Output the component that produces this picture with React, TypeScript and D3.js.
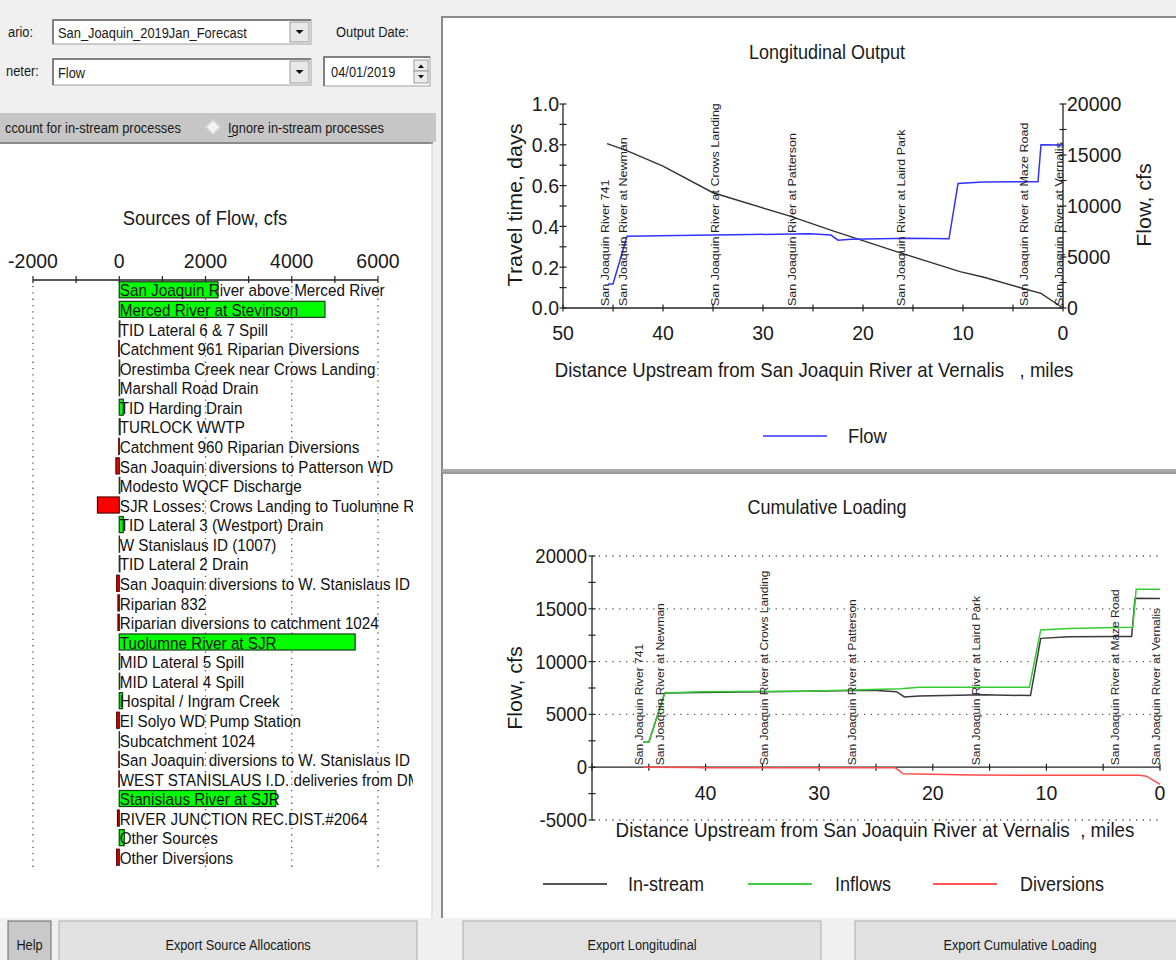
import * as d3 from 'd3'

const FONT = '"Liberation Sans", Arial, sans-serif'

// ---- Sources of Flow (cfs) ----
const sourceNames = [
  'San Joaquin River above Merced River',
  'Merced River at Stevinson',
  'TID Lateral 6 & 7 Spill',
  'Catchment 961 Riparian Diversions',
  'Orestimba Creek near Crows Landing',
  'Marshall Road Drain',
  'TID Harding Drain',
  'TURLOCK WWTP',
  'Catchment 960 Riparian Diversions',
  'San Joaquin diversions to Patterson WD',
  'Modesto WQCF Discharge',
  'SJR Losses: Crows Landing to Tuolumne River',
  'TID Lateral 3 (Westport) Drain',
  'W Stanislaus ID (1007)',
  'TID Lateral 2 Drain',
  'San Joaquin diversions to W. Stanislaus ID',
  'Riparian 832',
  'Riparian diversions to catchment 1024',
  'Tuolumne River at SJR',
  'MID Lateral 5 Spill',
  'MID Lateral 4 Spill',
  'Hospital / Ingram Creek',
  'El Solyo WD Pump Station',
  'Subcatchment 1024',
  'San Joaquin diversions to W. Stanislaus ID',
  'WEST STANISLAUS I.D. deliveries from DMC',
  'Stanislaus River at SJR',
  'RIVER JUNCTION REC.DIST.#2064',
  'Other Sources',
  'Other Diversions',
]
const sourceFlows = [
  2290, 4770, 15, -10, 10, 8, 93, 20, -12, -77, 12, -505, 93, 6, 15, -60, -30, -30, 5470, 10, 10, 77, -60, 5,
  -8, -8, 3630, -40, 116, -60,
]
const sourceTicks = [-2000, 0, 2000, 4000, 6000]

// ---- stations along the river (miles upstream of Vernalis) ----
const stationNames = [
  'San Joaquin River 741',
  'San Joaquin River at Newman',
  'San Joaquin River at Crows Landing',
  'San Joaquin River at Patterson',
  'San Joaquin River at Laird Park',
  'San Joaquin River at Maze Road',
  'San Joaquin River at Vernalis',
]
const stationMiles = [45.8, 44.0, 34.8, 27.1, 16.2, 3.9, 0.35]

// ---- travel time (days) ----
const travelMiles = [45.6, 43.8, 40, 35, 27.3, 23, 16.5, 10.3, 8, 3.8, 2.2, 0]
const travelDays = [0.806, 0.775, 0.695, 0.565, 0.45, 0.378, 0.274, 0.178, 0.152, 0.093, 0.072, 0]

// ---- in-stream flow (cfs) ----
const instreamMiles = [45.5, 45.0, 43.6, 40.4, 31.3, 25.3, 23.2, 22.5, 21.2, 15.5, 11.4, 10.5, 8.0, 4.0, 2.5, 2.2, 0]
const instreamFlow = [2360, 2360, 7030, 7080, 7200, 7280, 7150, 6650, 6750, 6850, 6780, 12200, 12350, 12380, 12380, 16000, 15980]

// ---- cumulative inflows (cfs) ----
const inflowMiles = [45.5, 45.0, 43.6, 40.4, 31.3, 22.8, 21.2, 11.5, 10.5, 8.0, 4.0, 2.4, 2.1, 0]
const inflowFlow = [2360, 2360, 7030, 7150, 7200, 7420, 7560, 7560, 13000, 13130, 13230, 13250, 16860, 16860]

// ---- cumulative diversions (cfs) ----
const diversionMiles = [45.5, 40.6, 40.4, 23.3, 22.6, 16.5, 1.8, 1.2, 0]
const diversionFlow = [0, -20, -60, -60, -620, -750, -760, -850, -1630]

const travelTicks = [0, 0.2, 0.4, 0.6, 0.8, 1.0]
const flowTicksRight = [0, 5000, 10000, 15000, 20000]
const mileTicks = [50, 40, 30, 20, 10, 0]
const cumFlowTicks = [-5000, 0, 5000, 10000, 15000, 20000]
const cumMileTicks = [40, 30, 20, 10, 0]

type TxtProps = {
  x: number
  y: number
  size: number
  sx?: number
  rot?: number
  anchor?: 'start' | 'middle' | 'end'
  fill?: string
  dy?: string
  children: any
}

function Txt({ x, y, size, sx = 1, rot = 0, anchor = 'start', fill = '#1a1a1a', dy = '0.35em', children }: TxtProps) {
  return (
    <text
      transform={`translate(${x},${y}) scale(${sx},1)${rot ? ` rotate(${rot})` : ''}`}
      fontSize={size}
      textAnchor={anchor}
      fill={fill}
      dy={dy}
      style={{ whiteSpace: 'pre' }}
    >
      {children}
    </text>
  )
}

function Combo({ x, y, w, h, text }: { x: number; y: number; w: number; h: number; text: string }) {
  return (
    <g>
      <rect x={x} y={y} width={w} height={h} fill="#fff" stroke="#a0a0a0" />
      <path d={`M${x},${y + h} V${y} H${x + w}`} fill="none" stroke="#696969" strokeWidth={1.5} />
      <rect x={x + w - 21} y={y + 2} width={19} height={h - 4} fill="#e8e8e8" stroke="#9a9a9a" />
      <path d={`M${x + w - 15.5},${y + h / 2 - 2} h8 l-4,4 z`} fill="#111" />
      <Txt x={x + 5} y={y + h / 2 + 1} size={14.3} sx={0.9}>
        {text}
      </Txt>
    </g>
  )
}

function Button({ x, w, label, pressed = false }: { x: number; w: number; label: string; pressed?: boolean }) {
  return (
    <g>
      <rect x={x} y={921} width={w} height={45} fill={pressed ? '#c9c9c9' : '#e1e1e1'} stroke={pressed ? '#6a6a6a' : '#adadad'} />
      <Txt x={x + w / 2} y={945} size={14.5} sx={0.88} anchor="middle">
        {label}
      </Txt>
    </g>
  )
}

function SourcesChart() {
  const x = d3.scaleLinear().domain([-2000, 6000]).range([33, 378])
  const y = d3
    .scaleBand<number>()
    .domain(d3.range(sourceNames.length))
    .range([280, 867])
    .paddingInner(0.18)
    .paddingOuter(0.09)
  const minor = d3.range(-2000, 6001, 1000)
  return (
    <g>
      <defs>
        <clipPath id="srcClip">
          <rect x={0} y={143} width={413} height={775} />
        </clipPath>
      </defs>
      <Txt x={205} y={218} size={20} sx={0.92} anchor="middle">
        Sources of Flow, cfs
      </Txt>
      {sourceTicks.map((t) => (
        <Txt key={t} x={x(t)} y={261} size={20.5} sx={0.95} anchor="middle">
          {t}
        </Txt>
      ))}
      <line x1={x(-2000)} x2={x(6000)} y1={280} y2={280} stroke="#222" strokeWidth={1.3} />
      {minor.map((t) => (
        <line key={t} x1={x(t)} x2={x(t)} y1={276} y2={283} stroke="#222" strokeWidth={1.2} />
      ))}
      {sourceTicks
        .filter((t) => t !== 0)
        .map((t) => (
          <line key={t} x1={x(t)} x2={x(t)} y1={286} y2={868} stroke="#555" strokeWidth={1.3} strokeDasharray="1.3 5" />
        ))}
      <g clipPath="url(#srcClip)">
        {sourceFlows.map((v, i) => {
          const x0 = x(Math.min(0, v))
          const w = Math.abs(x(v) - x(0))
          return (
            <rect
              key={i}
              x={x0}
              y={y(i)}
              width={w}
              height={y.bandwidth()}
              fill={v >= 0 ? '#00ff00' : '#ff0000'}
              stroke={v >= 0 ? '#1c3a1c' : '#5a0000'}
              strokeWidth={1.2}
            />
          )
        })}
        {sourceNames.map((n, i) => (
          <Txt key={i} x={x(0) + 0.5} y={(y(i) ?? 0) + y.bandwidth() / 2 + 1} size={16.3} sx={0.935} fill="#111">
            {n}
          </Txt>
        ))}
      </g>
    </g>
  )
}

function crossTicks(vals: number[], pos: (v: number) => number, fixed: number, vertical: boolean, keyp: string) {
  return vals.map((v) =>
    vertical ? (
      <line key={keyp + v} x1={fixed - 3.5} x2={fixed + 3.5} y1={pos(v)} y2={pos(v)} stroke="#222" strokeWidth={1.2} />
    ) : (
      <line key={keyp + v} x1={pos(v)} x2={pos(v)} y1={fixed - 3.5} y2={fixed + 3.5} stroke="#222" strokeWidth={1.2} />
    ),
  )
}

function StationLabels({ x, base, size }: { x: (m: number) => number; base: number; size: number }) {
  return (
    <g>
      {stationNames.map((n, i) => (
        <Txt key={n} x={x(stationMiles[i])} y={base} size={size} sx={0.85} rot={-90} fill="#222">
          {n}
        </Txt>
      ))}
    </g>
  )
}

function LongitudinalChart() {
  const x = d3.scaleLinear().domain([50, 0]).range([563, 1063])
  const yl = d3.scaleLinear().domain([0, 1]).range([308, 104])
  const yr = d3.scaleLinear().domain([0, 20000]).range([308, 104])
  const travel = d3
    .line<number>()
    .x((_, i) => x(travelMiles[i]))
    .y((d) => yl(d))
  const flow = d3
    .line<number>()
    .x((_, i) => x(instreamMiles[i]))
    .y((d) => yr(d))
  const fmt = d3.format('.1f')
  return (
    <g>
      <Txt x={827} y={52} size={20} sx={0.9} anchor="middle">
        Longitudinal Output
      </Txt>
      <line x1={563} x2={563} y1={yl(1)} y2={yl(0)} stroke="#222" strokeWidth={1.3} />
      <line x1={1063} x2={1063} y1={yr(20000)} y2={yr(0)} stroke="#222" strokeWidth={1.3} />
      <line x1={563} x2={1063} y1={308} y2={308} stroke="#222" strokeWidth={1.3} />
      {crossTicks(d3.range(0, 1.0001, 0.1), yl, 563, true, 'l')}
      {crossTicks(d3.range(0, 20001, 2500), yr, 1063, true, 'r')}
      {crossTicks(d3.range(0, 51, 5), x, 308, false, 'x')}
      {travelTicks.map((t) => (
        <Txt key={t} x={559} y={yl(t)} size={21} sx={0.93} anchor="end">
          {fmt(t)}
        </Txt>
      ))}
      {flowTicksRight.map((t) => (
        <Txt key={t} x={1067} y={yr(t)} size={21} sx={0.93}>
          {t}
        </Txt>
      ))}
      {mileTicks.map((t) => (
        <Txt key={t} x={x(t)} y={333} size={21} sx={0.93} anchor="middle">
          {t}
        </Txt>
      ))}
      <Txt x={515} y={205} size={21.5} sx={0.93} rot={-90} anchor="middle">
        Travel time, days
      </Txt>
      <Txt x={1144} y={205} size={21.5} sx={0.93} rot={-90} anchor="middle">
        Flow, cfs
      </Txt>
      <Txt x={814} y={370} size={20} sx={0.93} anchor="middle">
        {'Distance Upstream from San Joaquin River at Vernalis   , miles'}
      </Txt>
      <path d={travel(travelDays) ?? ''} fill="none" stroke="#333" strokeWidth={1.4} />
      <path d={flow(instreamFlow) ?? ''} fill="none" stroke="#3333ff" strokeWidth={1.5} />
      <StationLabels x={x} base={306} size={12.5} />
      <line x1={763} x2={827} y1={436} y2={436} stroke="#3333ff" strokeWidth={1.6} />
      <Txt x={848} y={436} size={20} sx={0.92}>
        Flow
      </Txt>
    </g>
  )
}

function CumulativeChart() {
  const x = d3.scaleLinear().domain([50, 0]).range([592, 1160])
  const y = d3.scaleLinear().domain([-5000, 20000]).range([820, 556])
  const mk = (miles: number[]) =>
    d3
      .line<number>()
      .x((_, i) => x(miles[i]))
      .y((d) => y(d))
  const y0 = y(0)
  return (
    <g>
      <Txt x={827} y={507} size={20} sx={0.9} anchor="middle">
        Cumulative Loading
      </Txt>
      {cumFlowTicks
        .filter((t) => t !== 0)
        .map((t) => (
          <line key={t} x1={592} x2={1160} y1={y(t)} y2={y(t)} stroke="#555" strokeWidth={1.3} strokeDasharray="1.3 5.5" />
        ))}
      <line x1={592} x2={592} y1={y(20000)} y2={y(-5000)} stroke="#222" strokeWidth={1.3} />
      <line x1={592} x2={1160} y1={y0} y2={y0} stroke="#222" strokeWidth={1.3} />
      {crossTicks(d3.range(-5000, 20001, 2500), y, 592, true, 'l')}
      {crossTicks(d3.range(0, 51, 5), x, y0, false, 'x')}
      {cumFlowTicks.map((t) => (
        <Txt key={t} x={587} y={y(t)} size={20} sx={0.93} anchor="end">
          {t}
        </Txt>
      ))}
      {cumMileTicks.map((t) => (
        <Txt key={t} x={x(t)} y={793} size={21} sx={0.93} anchor="middle">
          {t}
        </Txt>
      ))}
      <Txt x={515} y={688} size={21.5} sx={0.93} rot={-90} anchor="middle">
        Flow, cfs
      </Txt>
      <Txt x={875} y={830} size={20} sx={0.94} anchor="middle">
        {'Distance Upstream from San Joaquin River at Vernalis  , miles'}
      </Txt>
      <path d={mk(diversionMiles)(diversionFlow) ?? ''} fill="none" stroke="#ff4a4a" strokeWidth={1.5} />
      <path d={mk(instreamMiles)(instreamFlow) ?? ''} fill="none" stroke="#3a3a3a" strokeWidth={1.5} />
      <path d={mk(inflowMiles)(inflowFlow) ?? ''} fill="none" stroke="#33cc33" strokeWidth={1.5} />
      <StationLabels x={x} base={y0 - 2} size={12} />
      <line x1={543} x2={607} y1={884} y2={884} stroke="#555" strokeWidth={2} />
      <Txt x={628} y={884} size={20} sx={0.9}>
        In-stream
      </Txt>
      <line x1={748} x2={812} y1={884} y2={884} stroke="#44cc44" strokeWidth={2} />
      <Txt x={835} y={884} size={20} sx={0.9}>
        Inflows
      </Txt>
      <line x1={933} x2={997} y1={884} y2={884} stroke="#ff5555" strokeWidth={2} />
      <Txt x={1020} y={884} size={20} sx={0.9}>
        Diversions
      </Txt>
    </g>
  )
}

export default function App() {
  return (
    <svg
      width={1176}
      height={960}
      style={{ position: 'absolute', left: 0, top: 0, fontFamily: FONT }}
      xmlns="http://www.w3.org/2000/svg"
    >
      <rect x={0} y={0} width={1176} height={960} fill="#f0f0f0" />

      {/* form controls (labels are cut by the window edge in the original) */}
      <Txt x={8} y={32} size={14.3} sx={0.9}>
        ario:
      </Txt>
      <Combo x={53} y={20} w={258} h={24} text="San_Joaquin_2019Jan_Forecast" />
      <Txt x={336} y={32} size={14.3} sx={0.9}>
        Output Date:
      </Txt>
      <Txt x={6} y={71} size={14.3} sx={0.9}>
        neter:
      </Txt>
      <Combo x={53} y={59} w={258} h={26} text="Flow" />
      <rect x={324} y={57} width={106} height={29} fill="#fff" stroke="#a0a0a0" />
      <path d="M324,86 V57 H430" fill="none" stroke="#696969" strokeWidth={1.5} />
      <Txt x={331} y={72} size={14.3} sx={0.9}>
        04/01/2019
      </Txt>
      <rect x={414} y={60} width={14} height={11} fill="#ececec" stroke="#9a9a9a" />
      <rect x={414} y={71} width={14} height={12} fill="#ececec" stroke="#9a9a9a" />
      <path d="M418,68 h6 l-3,-3.5 z" fill="#111" />
      <path d="M418,75 h6 l-3,3.5 z" fill="#111" />

      <rect x={0} y={113} width={436} height={29} fill="#c6c6c6" />
      <Txt x={5} y={128} size={14.3} sx={0.9}>
        ccount for in-stream processes
      </Txt>
      <path d="M213,120 l7,7 l-7,7 l-7,-7 z" fill="#f4f4f4" stroke="#d8d8d8" strokeWidth={1.5} />
      <Txt x={228} y={128} size={14.3} sx={0.9}>
        Ignore in-stream processes
      </Txt>
      <line x1={228} x2={233} y1={136.5} y2={136.5} stroke="#222" strokeWidth={1} />

      {/* panels */}
      <rect x={0} y={143} width={431} height={775} fill="#fff" />
      <line x1={0} x2={433} y1={143} y2={143} stroke="#8a8a8a" strokeWidth={2} />
      <line x1={432} x2={432} y1={143} y2={918} stroke="#d8d8d8" strokeWidth={1} />
      <rect x={443} y={17} width={733} height={452} fill="#fff" />
      <rect x={443} y={473} width={733} height={445} fill="#fff" />
      <path d="M442,918 V17 H1176" fill="none" stroke="#8a8a8a" strokeWidth={2} />
      <line x1={442} x2={1176} y1={470.5} y2={470.5} stroke="#a8a8a8" strokeWidth={3} />
      <line x1={443} x2={1176} y1={473} y2={473} stroke="#7c7c7c" strokeWidth={1.5} />

      <SourcesChart />
      <LongitudinalChart />
      <CumulativeChart />

      {/* buttons */}
      <Button x={8} w={43} label="Help" pressed />
      <Button x={59} w={358} label="Export Source Allocations" />
      <Button x={463} w={358} label="Export Longitudinal" />
      <Button x={855} w={330} label="Export Cumulative Loading" />
    </svg>
  )
}
